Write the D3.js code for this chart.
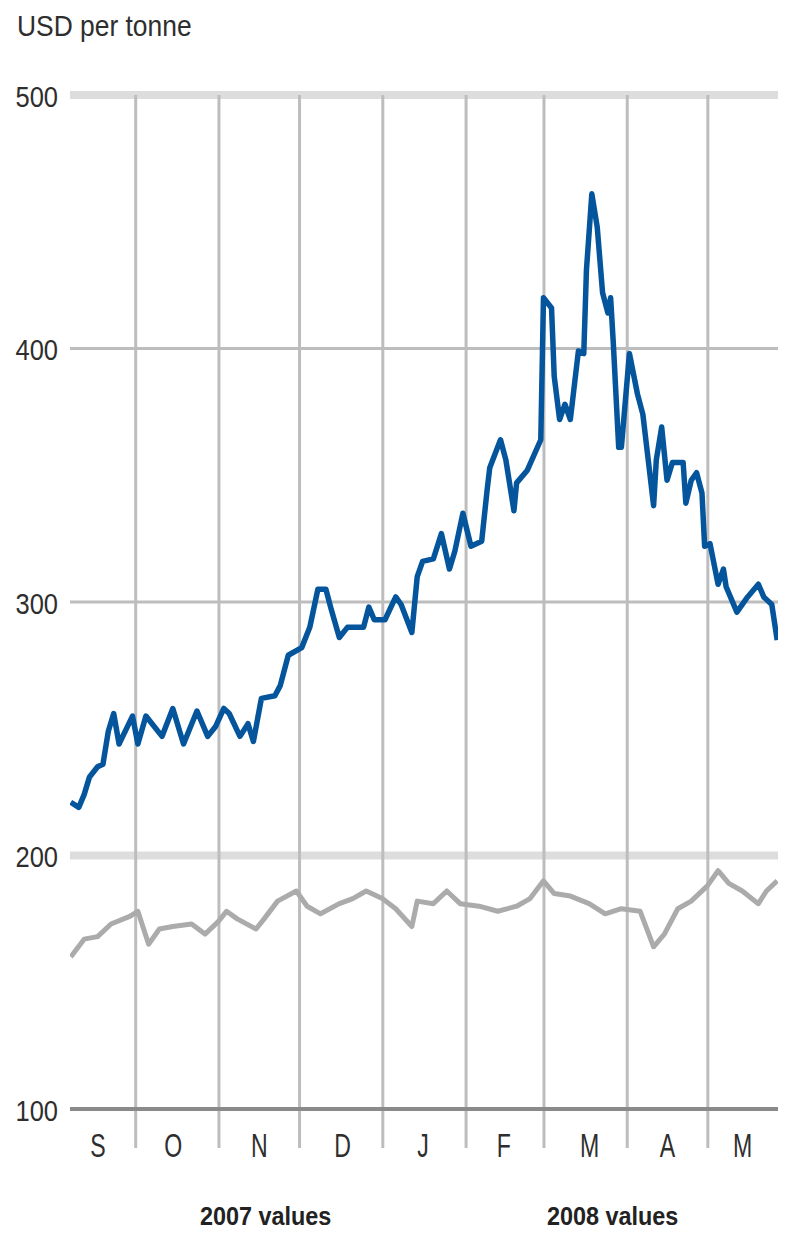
<!DOCTYPE html>
<html>
<head>
<meta charset="utf-8">
<script src="https://cdn.jsdelivr.net/npm/d3@7"></script>
<style>
  html, body { margin: 0; padding: 0; background: #ffffff; }
  svg { display: block; }
  text { font-family: "Liberation Sans", Arial, sans-serif; }
</style>
</head>
<body>
<svg id="chart" width="788" height="1235"></svg>
<script>
// ---------------- DATA ----------------
const unitLabel = "USD per tonne";
const yTicks = [100, 200, 300, 400, 500];
const monthStarts = ["2007-10-01","2007-11-01","2007-12-01","2008-01-01","2008-02-01","2008-03-01","2008-04-01","2008-05-01"];
const monthLabels = ["S","O","N","D","J","F","M","A","M"];
const monthLabelDates = ["2007-09-17","2007-10-15","2007-11-16","2007-12-17","2008-01-16","2008-02-15","2008-03-18","2008-04-16","2008-05-14"];
const seriesNames = ["2007 values", "2008 values"];

// 2008 values (blue)
const dates2008 = [
  "2007-09-07","2007-09-10","2007-09-12","2007-09-14","2007-09-17","2007-09-19","2007-09-21","2007-09-23","2007-09-25","2007-09-30",
  "2007-10-02","2007-10-05","2007-10-11","2007-10-15","2007-10-19","2007-10-24","2007-10-28","2007-10-31",
  "2007-11-03","2007-11-05","2007-11-09","2007-11-12","2007-11-14","2007-11-17","2007-11-22","2007-11-24","2007-11-27",
  "2007-12-02","2007-12-05","2007-12-08","2007-12-11","2007-12-13","2007-12-16","2007-12-19","2007-12-25","2007-12-27","2007-12-29",
  "2008-01-02","2008-01-06","2008-01-08","2008-01-12","2008-01-14","2008-01-16","2008-01-20","2008-01-23","2008-01-26","2008-01-28","2008-01-31",
  "2008-02-03","2008-02-07","2008-02-09","2008-02-10","2008-02-14","2008-02-16","2008-02-19","2008-02-20","2008-02-24","2008-02-29",
  "2008-03-01","2008-03-04","2008-03-05","2008-03-07","2008-03-09","2008-03-11","2008-03-14","2008-03-16","2008-03-17","2008-03-19",
  "2008-03-21","2008-03-23","2008-03-25","2008-03-26","2008-03-27","2008-03-29","2008-03-30",
  "2008-04-02","2008-04-05","2008-04-07","2008-04-09","2008-04-11","2008-04-12","2008-04-14","2008-04-16","2008-04-18","2008-04-22",
  "2008-04-23","2008-04-25","2008-04-27","2008-04-29","2008-04-30",
  "2008-05-02","2008-05-05","2008-05-07","2008-05-08","2008-05-12","2008-05-16","2008-05-20","2008-05-22","2008-05-25","2008-05-27"
];
const values2008 = [
  221, 219, 224, 231, 235, 236, 249, 256, 244, 255,
  244, 255, 247, 258, 244, 257, 247, 251,
  258, 256, 247, 252, 245, 262, 263, 267, 279,
  282, 290, 305, 305, 297, 286, 290, 290, 298, 293,
  293, 302, 299, 288, 310, 316, 317, 327, 313, 320, 335,
  322, 324, 344, 353, 364, 356, 336, 347, 352, 364,
  420, 416, 389, 372, 378, 372, 399, 398, 431, 461,
  448, 422, 414, 420, 402, 361, 361,
  398, 382, 374, 356, 338, 356, 369, 348, 355, 355,
  339, 348, 351, 343, 322,
  323, 307, 313, 306, 296, 302, 307, 302, 299, 285
];

// 2007 values (grey)
const dates2007 = [
  "2007-09-07","2007-09-12","2007-09-17","2007-09-22","2007-09-29",
  "2007-10-02","2007-10-06","2007-10-10","2007-10-15","2007-10-22","2007-10-27",
  "2007-11-01","2007-11-04","2007-11-08","2007-11-15","2007-11-18","2007-11-23","2007-11-30",
  "2007-12-04","2007-12-09","2007-12-16","2007-12-21","2007-12-26",
  "2008-01-01","2008-01-06","2008-01-12","2008-01-14","2008-01-20","2008-01-25","2008-01-30",
  "2008-02-06","2008-02-13","2008-02-20","2008-02-25",
  "2008-03-01","2008-03-05","2008-03-11","2008-03-18","2008-03-24","2008-03-30",
  "2008-04-06","2008-04-11","2008-04-15","2008-04-20","2008-04-25",
  "2008-05-01","2008-05-05","2008-05-09","2008-05-14","2008-05-20","2008-05-23","2008-05-27"
];
const values2007 = [
  160, 167, 168, 173, 176,
  178, 165, 171, 172, 173, 169,
  174, 178, 175, 171, 175, 182, 186,
  180, 177, 181, 183, 186,
  183, 179, 172, 182, 181, 186, 181,
  180, 178, 180, 183,
  190, 185, 184, 181, 177, 179,
  178, 164, 169, 179, 182,
  188, 194, 189, 186, 181, 186, 190
];

// ---------------- CHART ----------------
const W = 788, H = 1235;
const plotLeft = 70, plotRight = 778;
const parse = d3.timeParse("%Y-%m-%d");

const svg = d3.select("#chart");

const x = d3.scaleTime()
  .domain([parse("2007-09-01"), parse("2008-06-01")])
  .range([54.6, 790.6]);
const y = d3.scaleLinear().domain([100, 500]).range([1109, 95]);

const clipId = "plotclip";
svg.append("defs").append("clipPath").attr("id", clipId)
  .append("rect").attr("x", plotLeft).attr("y", 0).attr("width", plotRight - plotLeft).attr("height", H);

// title
svg.append("g").attr("transform", "translate(17,36) scale(0.88,1)")
  .append("text").attr("fill", "#2e2e2e").attr("font-size", 30).text(unitLabel);

// horizontal gridlines
const gridStyle = v => {
  if (v === 500 || v === 200) return { c: "#dddddd", w: 8 };
  if (v === 100) return { c: "#8a8a8a", w: 4 };
  return { c: "#bdbdbd", w: 3 };
};
svg.append("g").selectAll("line").data(yTicks.filter(v => v !== 100)).join("line")
  .attr("x1", plotLeft).attr("x2", plotRight)
  .attr("y1", d => y(d)).attr("y2", d => y(d))
  .attr("stroke", d => gridStyle(d).c).attr("stroke-width", d => gridStyle(d).w);

// vertical month separators via axis
const xGrid = d3.axisBottom(x)
  .tickValues(monthStarts.map(parse))
  .tickSize(-(1148 - y(500)))
  .tickFormat("");
const gxg = svg.append("g").attr("transform", "translate(0,1148)").call(xGrid);
gxg.select(".domain").remove();
gxg.selectAll("line").attr("stroke", "#bdbdbd").attr("stroke-width", 3);

// baseline at 100
svg.append("line")
  .attr("x1", plotLeft).attr("x2", plotRight)
  .attr("y1", y(100)).attr("y2", y(100))
  .attr("stroke", gridStyle(100).c).attr("stroke-width", gridStyle(100).w);

// y axis labels
const yAxis = d3.axisLeft(y).tickValues(yTicks).tickSize(0).tickFormat(d3.format("d"));
const gy = svg.append("g").attr("transform", `translate(${plotLeft},0)`).call(yAxis);
gy.select(".domain").remove();
gy.selectAll("text")
  .attr("font-family", "Liberation Sans, Arial, sans-serif")
  .attr("font-size", 30)
  .attr("fill", "#2e2e2e")
  .attr("text-anchor", "end")
  .attr("dy", null)
  .attr("y", 11)
  .attr("x", -12 / 0.85)
  .attr("transform", "scale(0.85,1)");

// month labels via axis
const xAxis = d3.axisBottom(x)
  .tickValues(monthLabelDates.map(parse))
  .tickSize(0)
  .tickFormat((d, i) => monthLabels[i]);
const gx = svg.append("g").attr("transform", `translate(0,${y(100)})`).call(xAxis);
gx.select(".domain").remove();
gx.selectAll("text")
  .attr("font-family", "Liberation Sans, Arial, sans-serif")
  .attr("font-size", 34)
  .attr("fill", "#2e2e2e")
  .attr("dy", null)
  .attr("y", 48)
  .attr("transform", "scale(0.68,1)");

// lines
const line = d3.line().x(d => x(d.date)).y(d => y(d.value));
const s2007 = dates2007.map((d, i) => ({ date: parse(d), value: values2007[i] }));
const s2008 = dates2008.map((d, i) => ({ date: parse(d), value: values2008[i] }));

const plot = svg.append("g").attr("clip-path", `url(#${clipId})`);
plot.append("path").datum(s2007).attr("d", line)
  .attr("fill", "none").attr("stroke", "#ababab").attr("stroke-width", 5)
  .attr("stroke-linejoin", "round");
plot.append("path").datum(s2008).attr("d", line)
  .attr("fill", "none").attr("stroke", "#04559c").attr("stroke-width", 5.5)
  .attr("stroke-linejoin", "round");

// legend along the bottom edge
const legend = [
  { name: seriesNames[0], tx: 200 },
  { name: seriesNames[1], tx: 547 }
];
const lg = svg.append("g");
legend.forEach(l => {
  lg.append("g").attr("transform", `translate(${l.tx},1225) scale(0.9,1)`)
    .append("text").attr("font-size", 26).attr("font-weight", "bold")
    .attr("fill", "#222").text(l.name);
});
</script>
</body>
</html>
